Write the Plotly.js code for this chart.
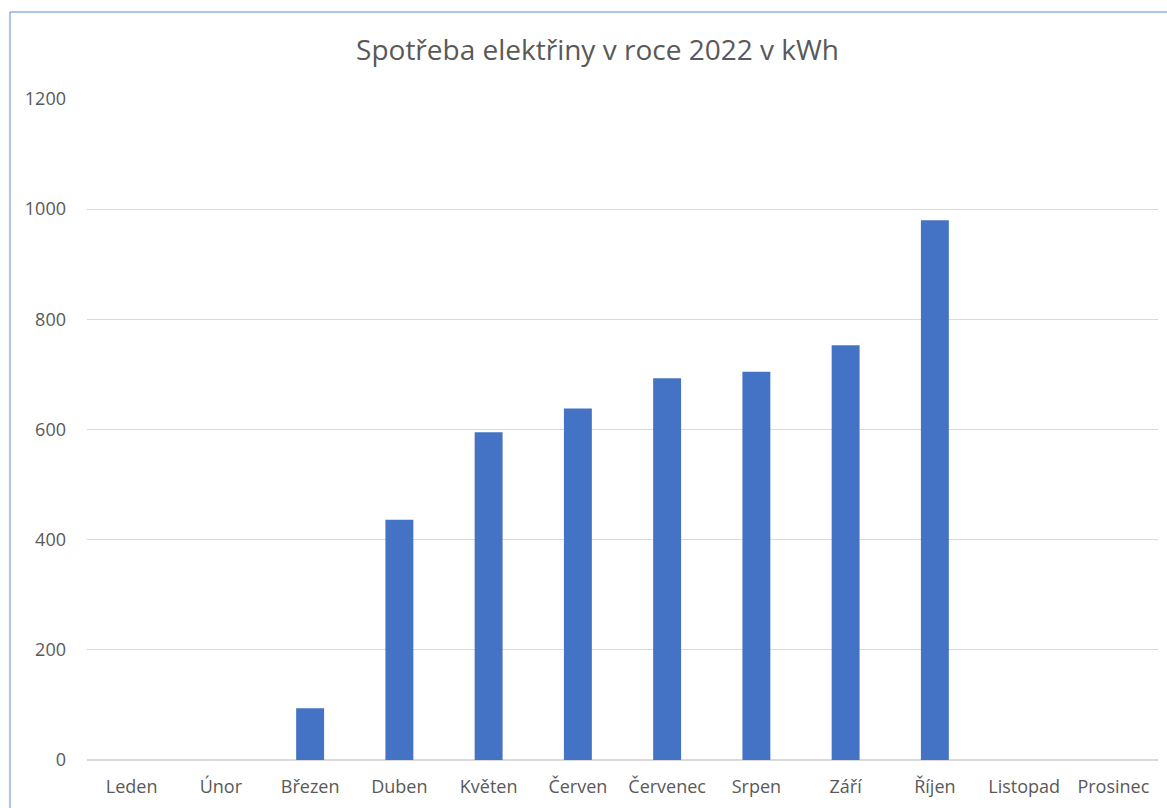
<!DOCTYPE html>
<html>
<head>
<meta charset="utf-8">
<script src="https://cdn.plot.ly/plotly-3.0.1.min.js"></script>
<style>html,body{margin:0;padding:0;background:#fff;}#chart{width:1167px;height:808px;}</style>
</head>
<body>
<div id="chart"></div>
<script>
const months = ["Leden","Únor","Březen","Duben","Květen","Červen","Červenec","Srpen","Září","Říjen","Listopad","Prosinec"];
const consumption = [null, null, 94, 436, 595, 638, 693, 705, 753, 980, null, null];
const yTicks = [0, 200, 400, 600, 800, 1000, 1200];
const chartTitle = "Spotřeba elektřiny v roce 2022 v kWh";

const textColor = "#595959";
const fontFam = "'Open Sans', 'Noto Sans', sans-serif";

Plotly.newPlot("chart", [{
  type: "bar",
  x: months,
  y: consumption,
  marker: {color: "#4472C4"},
  hoverinfo: "x+y"
}], {
  width: 1167, height: 808,
  margin: {l: 87, r: 9, t: 99, b: 48},
  paper_bgcolor: "#fff", plot_bgcolor: "#fff",
  bargap: 0.687,
  showlegend: false,
  title: {text: chartTitle, x: 0.512, xanchor: "center", y: 0.938, yanchor: "middle",
          font: {family: fontFam, size: 28, color: textColor}},
  xaxis: {type: "category", showgrid: false, zeroline: false, showline: false,
          ticks: "", tickfont: {family: fontFam, size: 18, color: textColor}, ticklabelstandoff: 14},
  yaxis: {range: [0, 1200], tickvals: yTicks, ticktext: yTicks.map(String),
          showgrid: true, gridcolor: "#D9D9D9", gridwidth: 1.3, zeroline: true, zerolinecolor: "#D9D9D9", zerolinewidth: 1.6,
          showline: false, ticks: "", ticklabelstandoff: 20,
          tickfont: {family: fontFam, size: 18, color: textColor}},
  shapes: [
    {type: "line", xref: "paper", yref: "paper", x0: -0.0719, x1: 1.2, y0: 1.1316, y1: 1.1316, line: {color: "#5B8BD9", width: 1}},
    {type: "line", xref: "paper", yref: "paper", x0: -0.0719, x1: -0.0719, y0: 1.1316, y1: -0.3, line: {color: "#5B8BD9", width: 1}}
  ]
}, {displayModeBar: false, staticPlot: true});
</script>
</body>
</html>
